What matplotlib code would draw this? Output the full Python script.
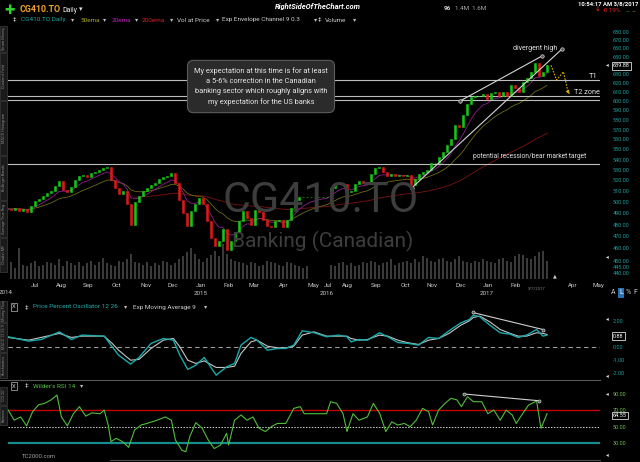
import numpy as np
import pandas as pd
import matplotlib
matplotlib.use("Agg")
import matplotlib.pyplot as plt
from matplotlib.patches import Rectangle
from matplotlib.ticker import NullLocator

plt.rcParams['font.family'] = ['Roboto', 'DejaVu Sans']

# one candle for every ~3 sessions
close = [494, 493, 495, 492, 494, 491, 497, 501, 503, 506,
         508, 510, 515, 519, 511, 509, 514, 520, 524, 525,
         523, 527, 528, 530, 532, 533, 520, 513, 507, 510,
         498, 480, 500, 506, 510, 513, 516, 518, 521, 523,
         524, 527, 518, 502, 490, 479, 492, 498, 504, 498,
         483, 469, 462, 466, 476, 459, 466, 474, 483, 492,
         486, 480, 493, 491, 484, 479, 478, 483, 484, 478,
         484, 495, 502, 505, 505, 505, 505, 505, 505, 505,
         505, 513, 517, 518, 517, 509, 510, 517, 519, 518,
         517, 526, 532, 533, 528, 524, 526, 524, 525, 524,
         525, 516, 521, 526, 528, 530, 537, 537, 542, 547,
         554, 560, 575, 573, 585, 597, 604, 606, 606, 608,
         602, 609, 610, 606, 610, 606, 618, 614, 610, 621,
         626, 632, 643, 628, 632, 640]

volume = [9, 12, 8, 22, 10, 9, 11, 13, 9, 10,
          12, 11, 10, 14, 9, 13, 11, 10, 12, 9,
          11, 13, 10, 12, 15, 11, 10, 9, 13, 12,
          14, 18, 12, 11, 10, 12, 9, 11, 10, 13,
          12, 10, 11, 14, 16, 19, 22, 18, 14, 12,
          15, 17, 20, 16, 25, 18, 14, 13, 12, 11,
          10, 12, 11, 9, 10, 13, 12, 11, 10, 9,
          12, 11, 10, 9, 8, 9, 0, 0, 0, 0,
          0, 10, 9, 11, 12, 10, 11, 9, 10, 12,
          11, 13, 12, 10, 11, 12, 14, 10, 11, 12,
          13, 11, 14, 12, 16, 15, 13, 12, 14, 15,
          13, 12, 14, 16, 13, 12, 11, 13, 12, 14,
          13, 12, 11, 14, 15, 13, 12, 16, 18, 17,
          15, 14, 16, 19, 20, 13]

# price percent oscillator 12 26 and its 9 ema
ppo_pos = [0.3, 5.4, 8.5, 13.1, 16.1, 18.7, 24.3, 26.3, 27.9, 30.9,
           33.0, 36.0, 39.1, 41.6, 43.2, 45.2, 47.2, 49.3, 52.3, 54.9,
           56.9, 58.5, 61.0, 62.5, 65.1, 67.6, 69.7, 71.7, 73.8, 76.8,
           79.9, 82.9, 85.0, 86.0, 88.0, 90.1, 93.1, 95.2, 97.7, 100.3,
           102.9, 105.4, 107.9, 110.5, 113.5, 115.6, 116.6, 118.2, 120.7, 123.3,
           125.8, 127.8, 129.9, 132.4, 134.0, 135.0]
ppo = [0.77, 0.44, 0.56, 1.15, 0.56, 0.90, 0.82, 0.00, -0.64, -1.33,
       -0.82, 0.26, 0.64, 0.51, -0.64, -1.74, -1.41, -0.82, -2.18, -1.54,
       -1.28, 0.13, 0.72, 0.51, -0.26, -0.13, -0.13, 0.13, 1.23, 1.08,
       0.77, 0.90, 0.77, 0.38, 0.56, 0.51, 1.08, 0.77, 0.33, 0.26,
       0.13, 0.72, 0.64, 1.23, 1.85, 2.10, 2.44, 2.31, 1.67, 1.08,
       0.97, 0.72, 0.90, 1.33, 0.82, 0.90]
ppo_sig = [0.72, 0.51, 0.72, 1.03, 0.72, 0.82, 0.82, 0.26, -0.26, -1.03,
           -0.97, -0.13, 0.51, 0.64, 0.00, -1.03, -1.28, -1.08, -1.59, -1.59,
           -1.49, -0.51, 0.38, 0.51, 0.05, -0.08, -0.08, 0.05, 0.90, 1.15,
           0.82, 0.82, 0.82, 0.64, 0.51, 0.56, 0.90, 0.82, 0.51, 0.31,
           0.18, 0.51, 0.64, 1.03, 1.67, 2.00, 2.26, 2.36, 1.92, 1.33,
           1.03, 0.82, 0.82, 1.08, 1.03, 0.95]

# wilder's rsi 14
rsi_pos = [0.3, 1.8, 3.4, 4.9, 6.4, 7.9, 9.5, 11.0, 12.5, 13.6,
           15.1, 16.6, 18.1, 19.7, 21.2, 23.3, 24.3, 25.3, 26.0, 27.3,
           28.9, 30.4, 31.9, 33.5, 35.0, 37.5, 39.6, 41.1, 42.1, 43.7,
           44.7, 45.7, 47.2, 48.8, 50.3, 51.8, 53.4, 54.9, 55.4, 56.9,
           58.5, 60.0, 61.5, 63.0, 64.6, 66.1, 67.6, 69.7, 71.7, 73.3,
           74.3, 75.3, 79.9, 80.9, 82.4, 84.0, 85.0, 86.5, 88.0, 90.1,
           91.6, 93.2, 94.7, 96.2, 97.7, 99.3, 100.8, 102.3, 103.9, 105.4,
           106.4, 107.9, 109.5, 111.0, 112.5, 113.6, 115.1, 116.6, 118.7, 120.2,
           121.7, 123.3, 124.8, 126.3, 127.3, 128.9, 130.4, 132.4, 133.5, 135.0]
rsi = [70.5, 58, 62, 51, 68.5, 77, 79, 83, 89, 62,
       51, 66, 74.7, 63, 67, 66, 70.5, 52, 31.5, 35.6,
       31.5, 24.5, 46, 52, 54, 58, 62, 58, 33.6, 21,
       19, 37.7, 55, 48, 33.6, 23, 27.4, 41.8, 27.4, 58,
       64.4, 58, 62, 48, 44, 50, 54, 54, 72.6, 74.7,
       66, 66, 66, 80.8, 78.8, 66, 44, 66, 58, 62,
       78.8, 66, 44, 56, 52, 54, 50, 58, 72.6, 68.5,
       52, 70.5, 78.8, 85, 83, 74.7, 87, 80.8, 80.8, 66,
       70.5, 58, 70.5, 64.4, 54, 66, 76.7, 81.6, 48, 66]

# axis labels
month_pos = [7.0, 13.5, 20.25, 27.25, 34.75, 41.5, 48.5, 55.5, 61.75, 69.25, 76.5,
             80.25, 85.0, 92.25, 99.5, 106.25, 113.5, 120.25, 127.25, 141.5, 147.75]
month_lbl = ['Jul', 'Aug', 'Sep', 'Oct', 'Nov', 'Dec', 'Jan', 'Feb', 'Mar', 'Apr', 'May',
             'Jul', 'Aug', 'Sep', 'Oct', 'Nov', 'Dec', 'Jan', 'Feb', 'Apr', 'May']
year_pos = [48.5, 80.0, 120.0]
year_lbl = ['2015', '2016', '2017']
price_ticks = [440, 445, 450, 460, 470, 480, 490, 500, 510, 520, 530, 540, 550,
               560, 570, 580, 590, 600, 610, 620, 630, 650, 660, 670, 680]

# drawn levels and trendlines
t1_level = 623.3
t2_levels = [605.5, 601.2]
target_level = 535.5
trend_a = ([113.25, 133.75], [600.1, 650.8])
trend_b = ([101.25, 138.75], [513.2, 659.1])
path_x = [136.0, 137.4, 139.1, 140.6]
path_y = [640, 623.3, 632.6, 607.7]
ppo_div = ([116.4, 134.0], [2.64, 1.33])
rsi_div = ([114.3, 133.0], [90.3, 82.0])

W, H = 640.0, 462.0
fig = plt.figure(figsize=(6.4, 4.62), dpi=100, facecolor='black')


def rect(x0, y0, x1, y1):
    return [x0 / W, 1 - y1 / H, (x1 - x0) / W, (y1 - y0) / H]


def T(px, py, s, **kw):
    kw.setdefault('va', 'center')
    kw.setdefault('color', '#d0d0d0')
    return fig.text(px / W, 1 - py / H, s, **kw)


XL = (0.25, 148.25)
x = np.arange(len(close))
c = np.array(close, float)
o = np.r_[c[0], c[:-1]]
cols = np.where(c >= o, '#14c814', '#e01818')

# volume behind the candles
axv = fig.add_axes(rect(8, 24, 600, 279))
axv.bar(x, volume, width=0.55, color='#3a3a3a')
axv.set_xlim(*XL)
axv.set_ylim(0, 180)
axv.axis('off')

ax = fig.add_axes(rect(8, 24, 600, 279))
ax.set_facecolor('none')
ax.set_yscale('log')
ax.set_xlim(*XL)
ax.set_ylim(435.3, 689.5)
for s in ax.spines.values():
    s.set_visible(False)

s = pd.Series(c)
ema20 = s.ewm(span=7, adjust=False).mean()
ema50 = s.ewm(span=17, adjust=False).mean()
ema200 = s.ewm(span=67, adjust=False).mean()
ax.plot(x[32:], ema200[32:], color='#6e1010', lw=0.7)
ax.plot(x, ema50, color='#6b6b12', lw=0.6)
ax.plot(x, ema20, color='#8e1e8e', lw=0.6)

ax.bar(x, c - o, bottom=o, width=0.6, color=cols, edgecolor=cols, linewidth=0.4, zorder=3)

for lv in [t1_level] + t2_levels + [target_level]:
    ax.axhline(lv, color='#bdbdbd', lw=0.8, zorder=2)

ax.plot(*trend_a, color='#d5d5d5', lw=0.8, marker='o', ms=2.5, mfc='#555555', mec='#d5d5d5', mew=0.5, zorder=4)
ax.plot(*trend_b, color='#d5d5d5', lw=0.8, marker='o', ms=2.5, mfc='#555555', mec='#d5d5d5', mew=0.5, zorder=4)
ax.plot(path_x[:-1] + [path_x[-1] - 0.3], path_y[:-1] + [path_y[-1] + 1.5], color='#d8b000', lw=0.8, ls=(0, (1.5, 1.2)), zorder=4)
ax.annotate('', xy=(path_x[-1], path_y[-1]), xytext=(path_x[-1] - 0.4, path_y[-1] + 3),
            arrowprops=dict(arrowstyle='-|>', color='#d8b000', lw=0.6, mutation_scale=5))

ax.yaxis.tick_right()
ax.set_yticks(price_ticks)
ax.set_yticklabels(['%.2f' % t for t in price_ticks])
ax.yaxis.set_minor_locator(NullLocator())
ax.tick_params(axis='y', length=0, pad=9, labelsize=4, labelcolor='#1e9d9d')
ax.set_xticks(month_pos)
ax.set_xticklabels(month_lbl)
ax.tick_params(axis='x', length=0, pad=3, labelsize=4.5, labelcolor='#c8c8c8')
for xp, yl in zip(year_pos, year_lbl):
    ax.text(xp, -0.058, yl, transform=ax.get_xaxis_transform(), ha='center', va='center',
            fontsize=4.5, color='#c8c8c8')

# watermark and notes
T(321, 200, 'CG410.TO', ha='center', fontsize=31, color='#3d3d3d', zorder=0)
T(323, 241, 'Banking (Canadian)', ha='center', fontsize=15, color='#3d3d3d', zorder=0)
T(261, 86.5, 'My expectation at this time is for at least\na 5-6% correction in the Canadian\n'
    'banking sector which roughly aligns with\nmy expectation for the US banks',
  ha='center', fontsize=5.3, color='#e6e6e6', linespacing=1.6,
  bbox=dict(boxstyle='round,pad=0.9,rounding_size=0.8', fc='#2b2b2b', ec='#5c5c5c', lw=0.8))
T(535, 49, 'divergent high', ha='center', fontsize=5, color='#e0e0e0')
T(598, 76, 'T1', ha='right', fontsize=5.5, color='#e0e0e0')
T(600, 92, 'T2 zone', ha='right', fontsize=5.2, color='#e0e0e0')
T(530, 157, 'potential recession/bear market target', ha='center', fontsize=4.8, color='#e0e0e0')

# last price box
T(613, 66, '639.88', fontsize=4, color='white',
  bbox=dict(boxstyle='square,pad=0.2', fc='black', ec='#dddddd', lw=0.6))
T(606, 65, '◂', fontsize=4, color='#dddddd')
T(606, 257, '◂', fontsize=4, color='#dddddd')
T(555, 276, '▲', fontsize=3.5, color='#cfcfcf', ha='center')
T(537, 289, '3/7/2017', fontsize=3, color='#8a8a8a', ha='center')
T(6, 293, '2014', fontsize=4.5, color='#c8c8c8', ha='center')

# header rows
T(10, 10, '✚', fontsize=9, color='#2fd12f', ha='center')
T(20, 10, 'CG410.TO', fontsize=6.4, color='#f0a030', fontweight='bold')
T(62, 10, 'Daily', fontsize=5, color='#e8e8e8')
T(79, 10, '▾', fontsize=5, color='#e8e8e8')
T(318, 7, 'RightSideOfTheChart.com', fontsize=5.4, color='white', fontweight='bold',
  style='italic', ha='center')
T(444, 8, '96', fontsize=4.5, color='#cfcfcf', fontweight='bold')
T(455, 8, '1.4M  1.6M', fontsize=4.5, color='#a8a8a8')
T(608, 4, '10:54:17 AM 3/8/2017', fontsize=4.2, color='white', fontweight='bold', ha='center')
T(598, 9, '↓', fontsize=5, color='#e02020', ha='center', fontweight='bold')
T(603, 11, '-0.19%', fontsize=4.5, color='#e02020')
T(626, 12, '–', fontsize=4.5, color='#2fb82f')
T(632, 12, '–', fontsize=4.5, color='#a0a020')

legend = [(13, '‡', '#cfcfcf'), (21, 'CG410.TO Daily', '#1fa3a3'), (71, '▾', '#bdbdbd'),
          (80, '50ema', '#a8a820'), (103, '▾', '#bdbdbd'), (112, '20ema', '#c020c0'),
          (135, '▾', '#bdbdbd'), (142, '200ema', '#d62020'), (170, '▾', '#bdbdbd'),
          (177, 'Vol at Price', '#cfcfcf'), (216, '▾', '#bdbdbd'),
          (222, 'Exp Envelope Channel 9 0.3', '#cfcfcf'), (314, '▾', '#bdbdbd'),
          (318, '‡', '#cfcfcf'), (325, 'Volume', '#cfcfcf'), (353, '▾', '#bdbdbd')]
for px, txt, col in legend:
    T(px, 20, txt, fontsize=4.6, color=col)

# left side tabs
tabs = [(25, 52, 'Smart Money'), (52, 100, 'Dividend Yield'), (100, 155, 'MACD Histogram'),
        (155, 200, 'Bollinger Bands'), (200, 237, 'Average True Rng'), (237, 272, 'Chaikin MF'),
        (300, 322, 'Money Flow'), (322, 352, 'MACD 12 26 9'), (352, 378, 'Stochastics'),
        (386, 405, 'CCI 20'), (405, 425, 'Balance')]
for y0, y1, lbl in tabs:
    fig.add_artist(Rectangle((0.3 / W, 1 - y1 / H), 6.5 / W, (y1 - y0 - 1) / H,
                             transform=fig.transFigure, fc='#1a1a1a', ec='#4a4a4a', lw=0.4))
    T(3.6, (y0 + y1) / 2, lbl, fontsize=2.8, color='#8a8a8a', rotation=90, ha='center')

T(613, 293, 'A', fontsize=5, color='#cfcfcf', ha='center')
T(621, 293, 'L', fontsize=5, color='white', ha='center',
  bbox=dict(boxstyle='square,pad=0.15', fc='#2a6fb0', ec='none'))
T(628.5, 293, '%', fontsize=5, color='#cfcfcf', ha='center')
T(635.5, 293, 'F', fontsize=5, color='#cfcfcf', ha='center')

# PPO panel
axp = fig.add_axes(rect(8, 300, 600, 378))
axp.set_facecolor('black')
axp.set_xlim(*XL)
axp.set_ylim(-2.4, 3.6)
axp.axhline(0, color='#9a9a9a', lw=0.8, ls=(0, (4, 3)))
axp.plot(ppo_pos, ppo_sig, color='#c4c4c4', lw=0.8)
axp.plot(ppo_pos, ppo, color='#1aa9a9', lw=1.0)
axp.plot(*ppo_div, color='#cfcfcf', lw=0.8, marker='o', ms=2.2, mfc='#555555', mec='#cfcfcf', mew=0.5)
axp.yaxis.tick_right()
axp.set_yticks([2, 0, -1, -2])
axp.set_yticklabels(['2.00', '0.00', '-1.00', '-2.00'])
axp.tick_params(axis='y', length=0, pad=9, labelsize=4, labelcolor='#1e9d9d')
axp.tick_params(axis='x', length=0, labelbottom=False)
for sp in axp.spines.values():
    sp.set_visible(False)
T(613, 336, '0.88', fontsize=4, color='white',
  bbox=dict(boxstyle='square,pad=0.2', fc='black', ec='#dddddd', lw=0.6))
T(606, 319, '◂', fontsize=4, color='#dddddd')
T(606, 376, '◂', fontsize=4, color='#dddddd')
T(14, 307, 'X', fontsize=4.2, color='#cfcfcf', ha='center',
  bbox=dict(boxstyle='square,pad=0.25', fc='black', ec='#9a9a9a', lw=0.6))
T(25, 307, '‡', fontsize=4.6, color='#cfcfcf')
T(33, 307, 'Price Percent Oscillator 12 26', fontsize=4.6, color='#1fb0b0')
T(124, 307, '▾', fontsize=4.6, color='#bdbdbd')
T(133, 307, 'Exp Moving Average 9', fontsize=4.6, color='#d0d0d0')
T(204, 307, '▾', fontsize=4.6, color='#bdbdbd')

# RSI panel
fig.add_artist(plt.Line2D([0, 600 / W], [1 - 380 / H] * 2, transform=fig.transFigure,
                          color='#555555', lw=0.8))
axr = fig.add_axes(rect(8, 380, 600, 462))
axr.set_facecolor('black')
axr.set_xlim(*XL)
axr.set_ylim(6.4, 107.6)
axr.axhline(70, color='#c40000', lw=1.0)
axr.axhline(50, color='#d0d0d0', lw=0.7, ls=(0, (1.5, 1.5)))
axr.axhline(30, color='#178c8c', lw=1.6)
axr.plot(rsi_pos, rsi, color='#52bd3c', lw=0.8)
axr.plot(*rsi_div, color='#cfcfcf', lw=0.8, marker='o', ms=2.2, mfc='#555555', mec='#cfcfcf', mew=0.5)
axr.yaxis.tick_right()
axr.set_yticks([90, 70, 50, 30])
axr.set_yticklabels(['90.00', '70.00', '50.00', '30.00'])
axr.tick_params(axis='y', length=0, pad=9, labelsize=4, labelcolor='#6fbf3f')
axr.tick_params(axis='x', length=0, labelbottom=False)
for sp in axr.spines.values():
    sp.set_visible(False)
T(613, 415.7, '64.55', fontsize=4, color='white',
  bbox=dict(boxstyle='square,pad=0.2', fc='black', ec='#dddddd', lw=0.6))
T(606, 394, '◂', fontsize=4, color='#dddddd')
T(606, 455, '◂', fontsize=4, color='#dddddd')
T(14, 386, 'X', fontsize=4.2, color='#cfcfcf', ha='center',
  bbox=dict(boxstyle='square,pad=0.25', fc='black', ec='#9a9a9a', lw=0.6))
T(25, 386, '‡', fontsize=4.6, color='#cfcfcf')
T(33, 386, "Wilder's RSI 14", fontsize=4.6, color='#52c040')
T(80, 386, '▾', fontsize=4.6, color='#bdbdbd')
T(22, 456, 'TC2000.com', fontsize=4.3, color='#a0a0a0')
fig.add_artist(plt.Line2D([110 / W, 600 / W], [1 - 460 / H] * 2, transform=fig.transFigure,
                          color='#4a4a4a', lw=0.8))

fig.savefig('out.png', dpi=100, facecolor='black')
